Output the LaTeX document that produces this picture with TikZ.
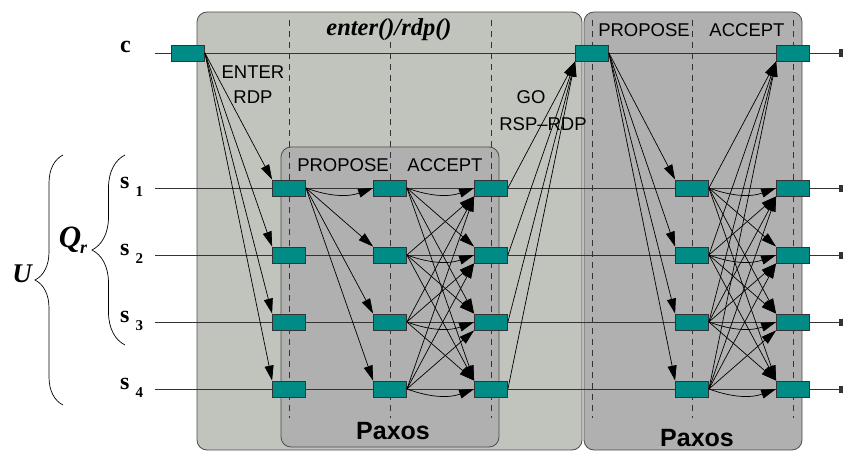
\documentclass[tikz,border=0pt]{standalone}
\usepackage{fontspec}
\setmainfont{Liberation Serif}
\setsansfont{Liberation Sans}
\usetikzlibrary{arrows.meta,decorations.pathreplacing}

\definecolor{lightpane}{RGB}{192,196,189}
\definecolor{darkpane}{RGB}{176,176,176}
\definecolor{msgteal}{RGB}{0,139,135}

\begin{document}
\begin{tikzpicture}[x=1pt, y=-1pt, >={Triangle[length=15pt,width=9pt]}]
  \tikzstyle{pane}=[draw=black!70, line width=0.8pt, rounded corners=10pt]
  \tikzstyle{guide}=[black!80, dash pattern=on 6pt off 5pt, line width=0.7pt]
  \tikzstyle{timeline}=[black!80, line width=0.8pt, -{Rectangle[length=4pt,width=7pt]}]
  \tikzstyle{msgbox}=[draw=black!80, fill=msgteal, minimum width=33pt, minimum height=16pt, inner sep=0pt, line width=0.8pt]
  \tikzstyle{msg}=[->, line width=0.7pt]
  \tikzstyle{phase}=[font=\sffamily\fontsize{18.5}{25}\selectfont, inner sep=0pt]
  \tikzstyle{paxos}=[font=\sffamily\bfseries\fontsize{25}{25}\selectfont, inner sep=0pt]
  \tikzstyle{procname}=[font=\bfseries\fontsize{24}{24}\selectfont, inner sep=0pt]
  \tikzstyle{setname}=[font=\bfseries\itshape\fontsize{27}{27}\selectfont, inner sep=0pt]
  \tikzstyle{bracket}=[line width=0.7pt, decorate]

  \useasboundingbox (0,0) rectangle (846,452);

  % ------- panes -------
  \draw[pane, fill=lightpane] (197,12) rectangle (582,450);
  \draw[pane, fill=darkpane]  (584,12) rectangle (802,450);
  \draw[pane, fill=darkpane]  (281,147) rectangle (499,447);

  % round boundaries
  \foreach \x in {289,390,491,592,692,793}
    \draw[guide] (\x,20) -- (\x,418);

  % ------- labels -------
  \node[font=\bfseries\itshape\fontsize{24.5}{24.5}\selectfont, fill=lightpane, inner sep=1pt] (title) at (389,30) {enter()/rdp()};
  \node[phase, align=center] (enter) at (253,85) {ENTER\\RDP};
  \node[phase] (go) at (531,97) {GO};
  \node[phase] (rsp) at (543,124) {RSP--RDP};
  \node[phase] (prop1) at (343,165) {PROPOSE};
  \node[phase] (acc1)  at (445,165) {ACCEPT};
  \node[phase] (prop2) at (644,30) {PROPOSE};
  \node[phase] (acc2)  at (747,30) {ACCEPT};
  \node[paxos] (paxos1) at (393,431) {Paxos};
  \node[paxos] (paxos2) at (697,438) {Paxos};

  \node[procname, anchor=base west] (lbl-c) at (120,53) {c};
  \foreach \i/\y in {1/188,2/255,3/322,4/389}
    \node[procname, anchor=base west] (lbl-s\i) at (120,\y) {s \raisebox{-8pt}{\fontsize{15}{15}\selectfont\i}};

  \node[setname, font=\bfseries\itshape\fontsize{31}{31}\selectfont] (lbl-q) at (73,240) {Q\kern-1pt\raisebox{-6pt}{\fontsize{18}{18}\selectfont r}};
  \node[setname] (lbl-u) at (22,274) {U};
  \draw[bracket, decoration={brace, amplitude=33pt}] (125,345) -- (125,155);
  \draw[bracket, decoration={brace, amplitude=28pt}] (63,405) -- (63,155);

  % ------- process lines -------
  \foreach \n/\y in {c/53,s1/188,s2/255,s3/322,s4/389} {
    \coordinate (\n-from) at (155,\y);
    \coordinate (\n-to) at (843,\y);
    \draw[timeline] (\n-from) -- (\n-to);
  }

  % ------- messages -------
  \node[msgbox] (c0) at (188,53) {};
  \node[msgbox] (c4) at (592,53) {};
  \node[msgbox] (c6) at (793,53) {};
  \foreach \i/\y in {1/188,2/255,3/322,4/389}
    \foreach \k/\x in {1/289,2/390,3/491,5/692,6/793}
      \node[msgbox] (s\i-\k) at (\x,\y) {};

  % ------- arrows -------
  % enter request to every server
  \foreach \i in {1,...,4}
    \draw[msg] (c0.east) -- (s\i-1.north west);

  % first paxos: propose from s1, then accept all-to-all
  \draw[msg] (s1-1.east) to[bend right=20] (s1-2.west);
  \foreach \j in {2,3,4}
    \draw[msg] (s1-1.east) -- (s\j-2.north west);
  \foreach \i in {1,...,4}
    \foreach \j in {1,...,4} {
      \ifnum\i<\j \draw[msg] (s\i-2.east) -- (s\j-3.north west); \fi
      \ifnum\i>\j \draw[msg] (s\i-2.east) -- (s\j-3.south west); \fi
      \ifnum\i=\j \draw[msg] (s\i-2.east) to[bend right=20] (s\j-3.west); \fi
    }

  % replies back to the client
  \foreach \i in {1,...,4}
    \draw[msg] (s\i-3.east) -- (c4.south west);

  % second paxos: client proposes, everybody accepts
  \foreach \j in {1,...,4}
    \draw[msg] (c4.east) -- (s\j-5.north west);
  \foreach \i in {1,...,4} {
    \draw[msg] (s\i-5.east) -- (c6.south west);
    \foreach \j in {1,...,4} {
      \ifnum\i<\j \draw[msg] (s\i-5.east) -- (s\j-6.north west); \fi
      \ifnum\i>\j \draw[msg] (s\i-5.east) -- (s\j-6.south west); \fi
      \ifnum\i=\j \draw[msg] (s\i-5.east) to[bend right=20] (s\j-6.west); \fi
    }
  }
\end{tikzpicture}
\end{document}
